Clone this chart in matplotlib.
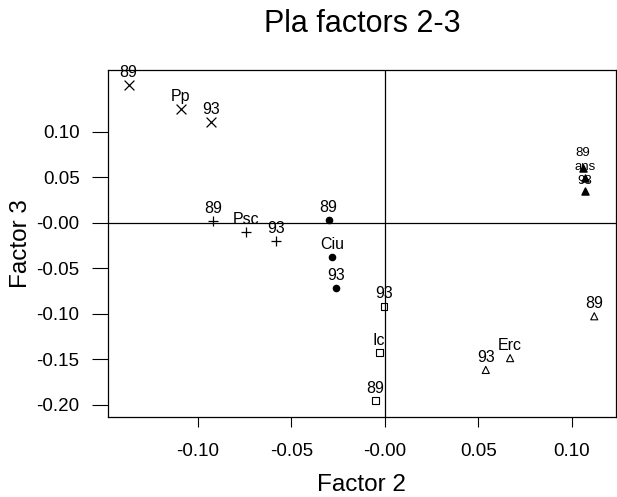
import numpy as np
import matplotlib.pyplot as plt

plt.rcParams['font.family'] = ['Liberation Sans', 'DejaVu Sans']

# each group: point for 1989, group centre, point for 1993
groups = ['Pp', 'Psc', 'Ciu', 'Ic', 'Erc', 'ans']
labels = ['89', None, '93']
f2 = {
    'Pp':  [-0.137, -0.109, -0.093],
    'Psc': [-0.092, -0.074, -0.058],
    'Ciu': [-0.030, -0.028, -0.026],
    'Ic':  [-0.005, -0.003, -0.0004],
    'Erc': [0.112, 0.067, 0.054],
    'ans': [0.106, 0.107, 0.107],
}
f3 = {
    'Pp':  [0.151, 0.125, 0.111],
    'Psc': [0.002, -0.010, -0.020],
    'Ciu': [0.003, -0.038, -0.072],
    'Ic':  [-0.196, -0.143, -0.092],
    'Erc': [-0.103, -0.149, -0.162],
    'ans': [0.060, 0.049, 0.035],
}
markers = {
    'Pp':  dict(marker='x', color='black', s=50, linewidths=0.9),
    'Psc': dict(marker='+', color='black', s=45, linewidths=0.9),
    'Ciu': dict(marker='o', color='black', s=20),
    'Ic':  dict(marker='s', facecolors='none', edgecolors='black', s=24, linewidths=0.8),
    'Erc': dict(marker='^', facecolors='none', edgecolors='black', s=26, linewidths=0.8),
    'ans': dict(marker='^', color='black', s=26),
}

xticks = [-0.10, -0.05, 0.00, 0.05, 0.10]
yticks = [0.10, 0.05, 0.00, -0.05, -0.10, -0.15, -0.20]


fig = plt.figure(figsize=(6.17, 4.97), dpi=100)
ax = fig.add_axes([0.175, 0.161, 0.823, 0.698])

ax.axhline(0, color='black', lw=0.9)
ax.axvline(0, color='black', lw=0.9)

for g in groups:
    ax.scatter(f2[g], f3[g], zorder=3, **markers[g])
    # the ans cluster is packed tight: smaller labels, stacked
    if g == 'ans':
        fs, offs = 9.5, [6.5, 3.5, 3.0]
    else:
        fs, offs = 11.5, [3.5, 3.5, 3.5]
    for i in range(3):
        txt = g if labels[i] is None else labels[i]
        ax.annotate(txt, (f2[g][i], f3[g][i]), xytext=(0, offs[i]),
                    textcoords='offset points', ha='center', va='bottom',
                    fontsize=fs, zorder=4)

ax.set_xlim(-0.148, 0.1235)
ax.set_ylim(-0.2137, 0.1676)
ax.set_xticks(xticks)
ax.set_xticklabels(['%.2f' % v if v != 0 else '-0.00' for v in xticks])
ax.set_yticks(yticks)
ax.set_yticklabels(['%.2f' % v if v != 0 else '-0.00' for v in yticks])
ax.tick_params(axis='x', direction='out', length=7, width=0.8, labelsize=13.5, pad=12)
ax.tick_params(axis='y', direction='out', length=11.5, width=0.8, labelsize=13.5, pad=9)

for sp in ax.spines.values():
    sp.set_linewidth(0.9)

ax.set_xlabel('Factor 2', fontsize=17.5, labelpad=10)
ax.set_ylabel('Factor 3', fontsize=17.5, labelpad=3)
fig.text(0.587, 0.952, 'Pla factors 2-3', ha='center', va='center', fontsize=22)

fig.savefig('out.png', dpi=100)
